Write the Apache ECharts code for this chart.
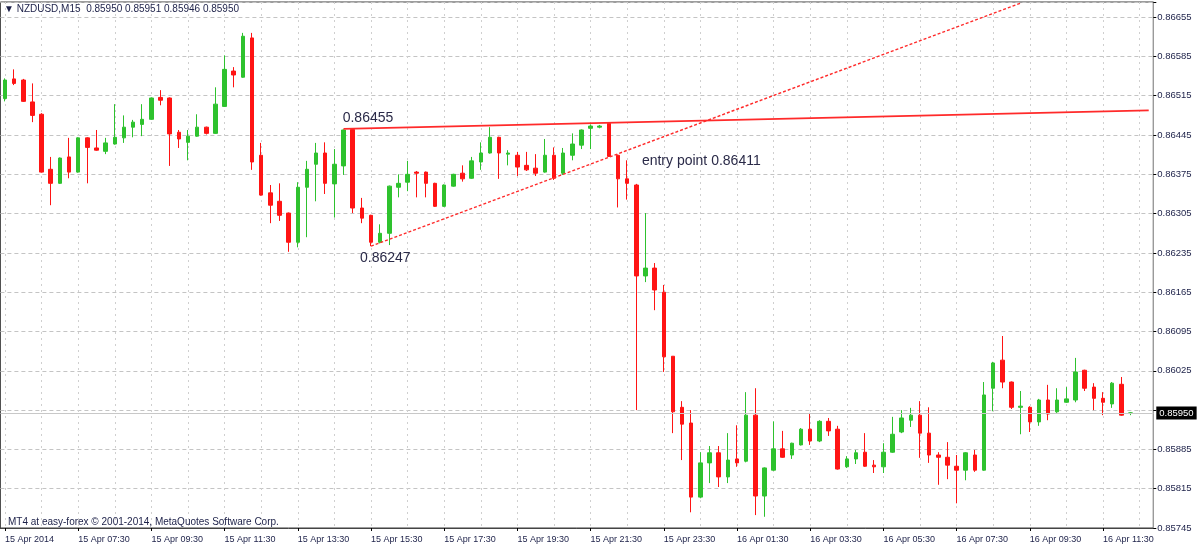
<!DOCTYPE html>
<html><head><meta charset="utf-8">
<script src="https://cdn.jsdelivr.net/npm/echarts@6/dist/echarts.min.js"></script>
<style>html,body{margin:0;padding:0;background:#fff;}#c{width:1200px;height:553px;}</style>
</head><body><div id="c"></div>
<script>
// NZDUSD M15 candles, 15 Apr 05:30 -> 16 Apr 12:15
const opens = [0.86510,0.86545,0.86543,0.86504,0.86482,0.86384,0.86359,0.86406,0.86379,0.86440,
0.86422,0.86416,0.86429,0.86440,0.86459,0.86464,0.86473,0.86512,0.86511,0.86450,
0.86432,0.86443,0.86459,0.86448,0.86496,0.86559,0.86548,0.86618,0.86409,0.86342,
0.86327,0.86306,0.86254,0.86352,0.86393,0.86413,0.86358,0.86390,0.86455,0.86315,
0.86302,0.86254,0.86270,0.86352,0.86361,0.86379,0.86379,0.86359,0.86318,0.86354,
0.86377,0.86368,0.86397,0.86413,0.86441,0.86411,0.86409,0.86391,0.86386,0.86379,
0.86409,0.86377,0.86409,0.86427,0.86457,0.86459,0.86466,0.86409,0.86367,0.86356,
0.86194,0.86208,0.86165,0.86051,0.85960,0.85932,0.85800,0.85861,0.85879,0.85836,
0.85868,0.85864,0.85946,0.85802,0.85848,0.85886,0.85875,0.85893,0.85921,0.85900,
0.85935,0.85921,0.85854,0.85868,0.85880,0.85857,0.85854,0.85880,0.85916,0.85937,
0.85946,0.85914,0.85875,0.85871,0.85855,0.85848,0.85875,0.85848,0.85994,0.86044,
0.86005,0.85960,0.85960,0.85934,0.85973,0.85952,0.85969,0.85973,0.86026,0.85996,
0.85976,0.85966,0.86001,0.85950];
const highs = [0.86546,0.86562,0.86545,0.86537,0.86484,0.86406,0.86405,0.86440,0.86441,0.86441,
0.86454,0.86440,0.86500,0.86480,0.86472,0.86500,0.86512,0.86525,0.86512,0.86454,
0.86454,0.86482,0.86460,0.86530,0.86587,0.86566,0.86627,0.86627,0.86431,0.86356,
0.86359,0.86307,0.86361,0.86399,0.86431,0.86432,0.86420,0.86455,0.86455,0.86333,
0.86303,0.86286,0.86355,0.86375,0.86399,0.86381,0.86380,0.86360,0.86357,0.86376,
0.86391,0.86406,0.86432,0.86459,0.86442,0.86418,0.86415,0.86415,0.86411,0.86438,
0.86423,0.86422,0.86448,0.86455,0.86464,0.86463,0.86467,0.86410,0.86400,0.86358,
0.86306,0.86217,0.86178,0.86051,0.85971,0.85955,0.85880,0.85891,0.85891,0.85914,
0.85928,0.85987,0.85994,0.85853,0.85935,0.85918,0.85897,0.85923,0.85950,0.85937,
0.85941,0.85927,0.85873,0.85884,0.85914,0.85866,0.85896,0.85943,0.85955,0.85959,
0.85971,0.85960,0.85880,0.85898,0.85875,0.85880,0.85884,0.86005,0.86041,0.86087,
0.86006,0.85989,0.85962,0.85975,0.86000,0.85994,0.85996,0.86048,0.86027,0.86003,
0.85987,0.86005,0.86014,0.85951];
const lows = [0.86505,0.86534,0.86504,0.86468,0.86378,0.86320,0.86358,0.86368,0.86378,0.86359,
0.86417,0.86411,0.86428,0.86431,0.86441,0.86443,0.86472,0.86498,0.86390,0.86422,
0.86400,0.86442,0.86446,0.86447,0.86495,0.86530,0.86547,0.86383,0.86337,0.86288,
0.86292,0.86237,0.86245,0.86263,0.86327,0.86340,0.86298,0.86374,0.86306,0.86288,
0.86247,0.86252,0.86249,0.86334,0.86345,0.86334,0.86334,0.86317,0.86317,0.86353,
0.86362,0.86367,0.86383,0.86412,0.86367,0.86391,0.86372,0.86381,0.86372,0.86378,
0.86365,0.86374,0.86400,0.86420,0.86420,0.86457,0.86406,0.86316,0.86330,0.85955,
0.86183,0.86133,0.86023,0.85914,0.85866,0.85773,0.85798,0.85825,0.85818,0.85825,
0.85854,0.85862,0.85768,0.85765,0.85847,0.85870,0.85868,0.85892,0.85893,0.85898,
0.85909,0.85849,0.85852,0.85859,0.85854,0.85843,0.85843,0.85879,0.85914,0.85925,
0.85870,0.85861,0.85822,0.85832,0.85789,0.85830,0.85845,0.85847,0.85953,0.85994,
0.85957,0.85912,0.85916,0.85927,0.85937,0.85950,0.85968,0.85969,0.85989,0.85955,
0.85946,0.85959,0.85945,0.85946];
const closes = [0.86543,0.86537,0.86505,0.86480,0.86379,0.86359,0.86404,0.86379,0.86440,0.86423,
0.86418,0.86431,0.86441,0.86459,0.86468,0.86473,0.86511,0.86507,0.86447,0.86438,
0.86443,0.86459,0.86448,0.86500,0.86562,0.86552,0.86621,0.86397,0.86338,0.86320,
0.86302,0.86254,0.86352,0.86384,0.86413,0.86359,0.86393,0.86454,0.86315,0.86297,
0.86254,0.86270,0.86354,0.86359,0.86375,0.86377,0.86359,0.86318,0.86356,0.86375,
0.86367,0.86399,0.86413,0.86441,0.86413,0.86413,0.86388,0.86383,0.86377,0.86409,
0.86368,0.86413,0.86429,0.86454,0.86461,0.86461,0.86407,0.86367,0.86359,0.86194,
0.86208,0.86169,0.86050,0.85952,0.85930,0.85800,0.85861,0.85879,0.85836,0.85866,
0.85861,0.85946,0.85802,0.85852,0.85886,0.85871,0.85896,0.85921,0.85900,0.85935,
0.85918,0.85850,0.85868,0.85879,0.85855,0.85854,0.85880,0.85912,0.85941,0.85946,
0.85914,0.85875,0.85871,0.85857,0.85848,0.85879,0.85848,0.85982,0.86039,0.86005,
0.85960,0.85962,0.85934,0.85973,0.85948,0.85973,0.85975,0.86023,0.85994,0.85976,
0.85969,0.86003,0.85946,0.85950];

const xTickLabels = ['15 Apr 2014','15 Apr 07:30','15 Apr 09:30','15 Apr 11:30','15 Apr 13:30','15 Apr 15:30',
'15 Apr 17:30','15 Apr 19:30','15 Apr 21:30','15 Apr 23:30','16 Apr 01:30','16 Apr 03:30','16 Apr 05:30',
'16 Apr 07:30','16 Apr 09:30','16 Apr 11:30'];
const yTickLabels = ['0.86655','0.86585','0.86515','0.86445','0.86375','0.86305','0.86235','0.86165',
'0.86095','0.86025','0.85885','0.85815','0.85745'];
const currentPrice = 0.85950;
const titleText = '\u25BC NZDUSD,M15  0.85950 0.85951 0.85946 0.85950';
const copyrightText = 'MT4 at easy-forex \u00A9 2001-2014, MetaQuotes Software Corp.';
const upperLine = [[37, 0.86456], [125, 0.86489]];
const lowerLine = [[40, 0.86247], [111, 0.86680]];
const notes = [
  {at: [38, 0.86455], text: '0.86455', off: [-10, -11]},
  {at: [40, 0.86247], text: '0.86247', off: [-11, 12]},
  {at: [66, 0.86411], text: 'entry point 0.86411', off: [33, 7]}
];

// category axis: 15-minute bars from 15 Apr 05:30 (124 bars + 2 empty slots)
const nSlots = 126;
const categories = [];
for (let k = 0; k < nSlots; k++) {
  const m = 5 * 60 + 30 + 15 * k;
  const day = 15 + Math.floor(m / 1440);
  const mm = m % 1440;
  const hh = String(Math.floor(mm / 60)).padStart(2, '0');
  const mi = String(mm % 60).padStart(2, '0');
  categories.push(day + ' Apr ' + hh + ':' + mi);
}
const candleData = categories.map((c, i) =>
  i < opens.length ? [opens[i], closes[i], lows[i], highs[i]] : '-');

const FONT = 'Liberation Sans';
const chart = echarts.init(document.getElementById('c'), null, {renderer: 'canvas'});
chart.setOption({
  animation: false,
  backgroundColor: '#ffffff',
  title: [
    {text: titleText, left: 4, top: 4, padding: 0,
     textStyle: {fontSize: 10, fontWeight: 'normal', color: '#1c2048', fontFamily: FONT}},
    {text: copyrightText, left: 8, top: 517, padding: 0,
     textStyle: {fontSize: 10, fontWeight: 'normal', color: '#1c2048', fontFamily: FONT}}
  ],
  grid: {left: 0.4, top: 2, right: 46.7, bottom: 25, show: true, borderColor: '#3a3a3a', borderWidth: 1, containLabel: false},
  xAxis: {
    type: 'category', data: categories, boundaryGap: true,
    axisLine: {lineStyle: {color: '#444', width: 1}},
    axisTick: {show: true, alignWithLabel: true, length: 3, interval: (i) => i % 8 === 0, lineStyle: {color: '#000'}},
    axisLabel: {
      interval: (i) => i % 8 === 0, align: 'left', margin: 7, fontSize: 9, color: '#1c2048', fontFamily: FONT,
      formatter: (v, i) => (i % 8 === 0 && xTickLabels[i / 8]) ? xTickLabels[i / 8] : ''
    },
    splitLine: {show: true, alignWithLabel: true, interval: (i) => i % 4 === 0,
      lineStyle: {color: '#cfcfcf', type: [2, 4], width: 1}}
  },
  yAxis: {
    type: 'value', position: 'right', scale: true,
    min: 0.85745, max: 0.86682, interval: 0.0007,
    axisLine: {show: true, lineStyle: {color: '#9a9a9a'}},
    axisTick: {show: true, length: 3, lineStyle: {color: '#000'}},
    axisLabel: {
      margin: 4, fontSize: 9.5, color: '#1c2048', fontFamily: FONT,
      formatter: (v) => { const s = v.toFixed(5); return yTickLabels.indexOf(s) >= 0 ? s : ''; }
    },
    splitLine: {show: true, lineStyle: {color: '#c4c4c4', type: [4, 3], width: 1}}
  },
  series: [{
    type: 'candlestick', data: candleData, barWidth: 4,
    itemStyle: {color: '#2ec22e', color0: '#ff1414', borderColor: '#2ec22e', borderColor0: '#ff1414', borderWidth: 1},
    markLine: {
      silent: true, symbol: ['none', 'none'], animation: false, precision: 5,
      data: [
        [{coord: upperLine[0], lineStyle: {color: '#ff2a2a', width: 1.6, type: 'solid'}, label: {show: false}},
         {coord: upperLine[1]}],
        [{coord: lowerLine[0], lineStyle: {color: '#ff2a2a', width: 1.4, type: [3, 2]}, label: {show: false}},
         {coord: lowerLine[1]}],
        {yAxis: currentPrice, lineStyle: {color: '#c8c8c8', width: 1, type: 'solid'},
         label: {show: true, position: 'end', formatter: currentPrice.toFixed(5), distance: 3,
           backgroundColor: '#000', color: '#fff', fontSize: 9.5, fontFamily: FONT, padding: [2, 3, 1, 3]}}
      ]
    },
    markPoint: {
      silent: true, symbol: 'circle', symbolSize: 0, animation: false,
      itemStyle: {color: 'transparent'},
      label: {show: true, position: 'inside', align: 'left', verticalAlign: 'middle',
        fontSize: 14, color: '#2a2a48', fontFamily: FONT},
      data: notes.map(n => ({coord: n.at, label: {formatter: n.text, offset: n.off}}))
    }
  }]
});
</script></body></html>
